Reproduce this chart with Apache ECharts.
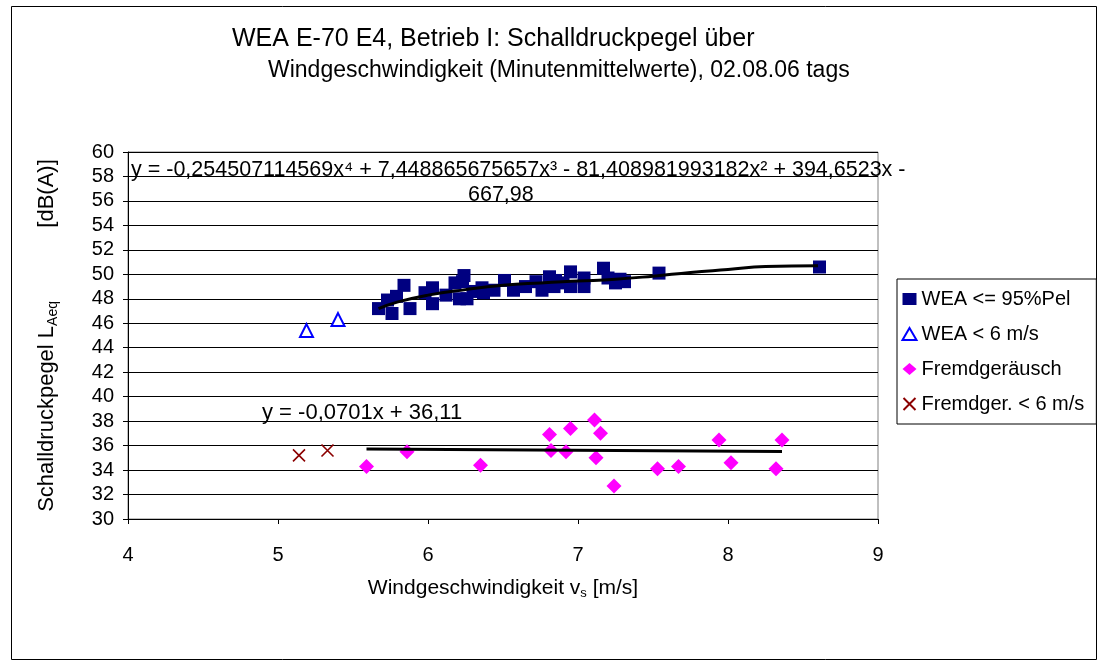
<!DOCTYPE html>
<html>
<head>
<meta charset="utf-8">
<script src="https://cdn.jsdelivr.net/npm/echarts@6/dist/echarts.min.js"></script>
<style>
html,body{margin:0;padding:0;background:#fff;}
#main{width:1101px;height:664px;}
</style>
</head>
<body>
<div id="main"></div>
<script>
// ---- data ----
const weaX = [5.67,5.73,5.76,5.79,5.84,5.88,5.98,6.03,6.03,6.12,6.18,6.24,6.21,6.26,6.36,6.37,6.44,6.51,6.57,6.65,6.72,6.76,6.81,6.84,6.85,6.95,6.95,7.04,7.04,7.17,7.20,7.25,7.31,7.54,8.61,6.23,6.30,6.90,7.28];
const weaY = [47.2,47.9,46.8,48.2,49.1,47.2,48.5,48.9,47.6,48.3,49.3,49.9,48.0,48.0,48.9,48.5,48.7,49.5,48.7,49.0,49.4,48.7,49.8,49.0,49.5,50.2,49.0,49.7,49.0,50.5,49.7,49.3,49.4,50.1,50.6,49.4,48.6,49.3,49.6];
const wea6X = [5.19,5.40];
const wea6Y = [45.4,46.3];
const fremdX = [5.59,5.86,6.35,6.81,6.82,6.95,6.92,7.11,7.15,7.12,7.24,7.53,7.67,7.94,8.02,8.32,8.36];
const fremdY = [34.3,35.5,34.4,36.9,35.6,37.4,35.5,38.1,37.0,35.0,32.7,34.1,34.3,36.45,34.6,34.1,36.45];
const fremd6X = [5.14,5.33];
const fremd6Y = [35.2,35.6];
// trend lines
const weaTrendX = [5.67,5.8,6.0,6.25,6.5,6.75,7.0,7.25,7.5,7.75,8.0,8.25,8.6];
const weaTrendY = [47.2,47.75,48.3,48.75,49.1,49.3,49.45,49.6,49.85,50.15,50.4,50.65,50.7];
const fremdTrendX = [5.59,8.36];
const fremdTrendY = [35.72,35.52];
const seriesNames = ['WEA <= 95%Pel','WEA < 6 m/s','Fremdgeräusch','Fremdger. < 6 m/s'];
const titleLines = ['WEA E-70 E4, Betrieb I: Schalldruckpegel über','Windgeschwindigkeit (Minutenmittelwerte), 02.08.06 tags'];
const eq1a = 'y = -0,254507114569x⁴ + 7,448865675657x³ - 81,408981993182x² + 394,6523x -';
const eq1b = '667,98';
const eq2 = 'y = -0,0701x + 36,11';

const zip = (a,b) => a.map((v,i)=>[v,b[i]]);
const FONT = '"Liberation Sans", Arial, sans-serif';

const chart = echarts.init(document.getElementById('main'), null, {renderer:'canvas'});
chart.setOption({
  backgroundColor:'#fff',
  animation:false,
  textStyle:{fontFamily:FONT, color:'#000'},
  grid:{left:128, top:152, right:223, bottom:145, show:true, borderColor:'#808080', borderWidth:1, backgroundColor:'transparent'},
  xAxis:{
    type:'value', min:4, max:9, interval:1,
    axisLine:{lineStyle:{color:'#000', width:1}},
    axisTick:{show:true, length:5, inside:false, lineStyle:{color:'#000'}},
    axisLabel:{fontSize:20, color:'#000', margin:26, fontFamily:FONT},
    splitLine:{show:false},
    name:'Windgeschwindigkeit v{sub|s} [m/s]',
    nameLocation:'middle', nameGap:58,
    nameTextStyle:{fontSize:21, color:'#000', fontFamily:FONT, rich:{sub:{fontSize:13, padding:[10,0,0,0], fontFamily:FONT}}}
  },
  yAxis:{
    type:'value', min:30, max:60, interval:2,
    axisLine:{show:true, lineStyle:{color:'#000', width:1}},
    axisTick:{show:true, length:5, lineStyle:{color:'#000'}},
    axisLabel:{fontSize:20, color:'#000', margin:14, fontFamily:FONT},
    splitLine:{show:true, lineStyle:{color:'#000', width:1}},
    name:'Schalldruckpegel L{sub|Aeq}            [dB(A)]',
    nameLocation:'middle', nameGap:68, nameRotate:90,
    nameTextStyle:{fontSize:22, color:'#000', fontFamily:FONT, rich:{sub:{fontSize:14, padding:[12,0,0,0], fontFamily:FONT}}}
  },
  legend:{
    orient:'vertical', left:897, top:279,
    data:seriesNames,
    backgroundColor:'#fff', borderColor:'#000', borderWidth:1,
    padding:[10,12,10,4], itemGap:15, itemWidth:14, itemHeight:12,
    textStyle:{fontSize:20, color:'#000', fontFamily:FONT}
  },
  graphic:[
    {type:'rect', left:9, top:4, shape:{width:1085, height:653}, style:{fill:'none', stroke:'#000', lineWidth:1}, z:-10, silent:true},
    {type:'text', left:232, top:27, style:{text:titleLines[0], font:'25px '+FONT, fill:'#000'}},
    {type:'text', left:268, top:59, style:{text:titleLines[1], font:'23px '+FONT, fill:'#000'}},
    {type:'text', left:131, top:159, style:{text:eq1a, font:'21.5px '+FONT, fill:'#000'}, z:20},
    {type:'text', left:468, top:184, style:{text:eq1b, font:'21.5px '+FONT, fill:'#000'}, z:20},
    {type:'text', left:262, top:402, style:{text:eq2, font:'22px '+FONT, fill:'#000'}, z:20}
  ],
  series:[
    {name:seriesNames[0], type:'scatter', data:zip(weaX,weaY), symbol:'rect', symbolSize:13, itemStyle:{color:'#000080', opacity:1}, z:3},
    {name:seriesNames[1], type:'scatter', data:zip(wea6X,wea6Y), symbol:'triangle', symbolSize:13, itemStyle:{color:'#fff', borderColor:'#0000FF', borderWidth:2, opacity:1}, z:3},
    {name:seriesNames[2], type:'scatter', data:zip(fremdX,fremdY), symbol:'diamond', symbolSize:15, itemStyle:{color:'#FF00FF', opacity:1}, z:3},
    {name:seriesNames[3], type:'scatter', data:zip(fremd6X,fremd6Y), symbol:'path://M0,0L10,10M10,0L0,10', symbolSize:12, itemStyle:{color:'none', borderColor:'#8B0000', borderWidth:1.6, opacity:1}, z:3},
    {name:'trendWEA', type:'line', data:zip(weaTrendX,weaTrendY), smooth:true, symbol:'none', lineStyle:{color:'#000', width:3}, z:5},
    {name:'trendFremd', type:'line', data:zip(fremdTrendX,fremdTrendY), symbol:'none', lineStyle:{color:'#000', width:3}, z:5}
  ]
});
</script>
</body>
</html>
